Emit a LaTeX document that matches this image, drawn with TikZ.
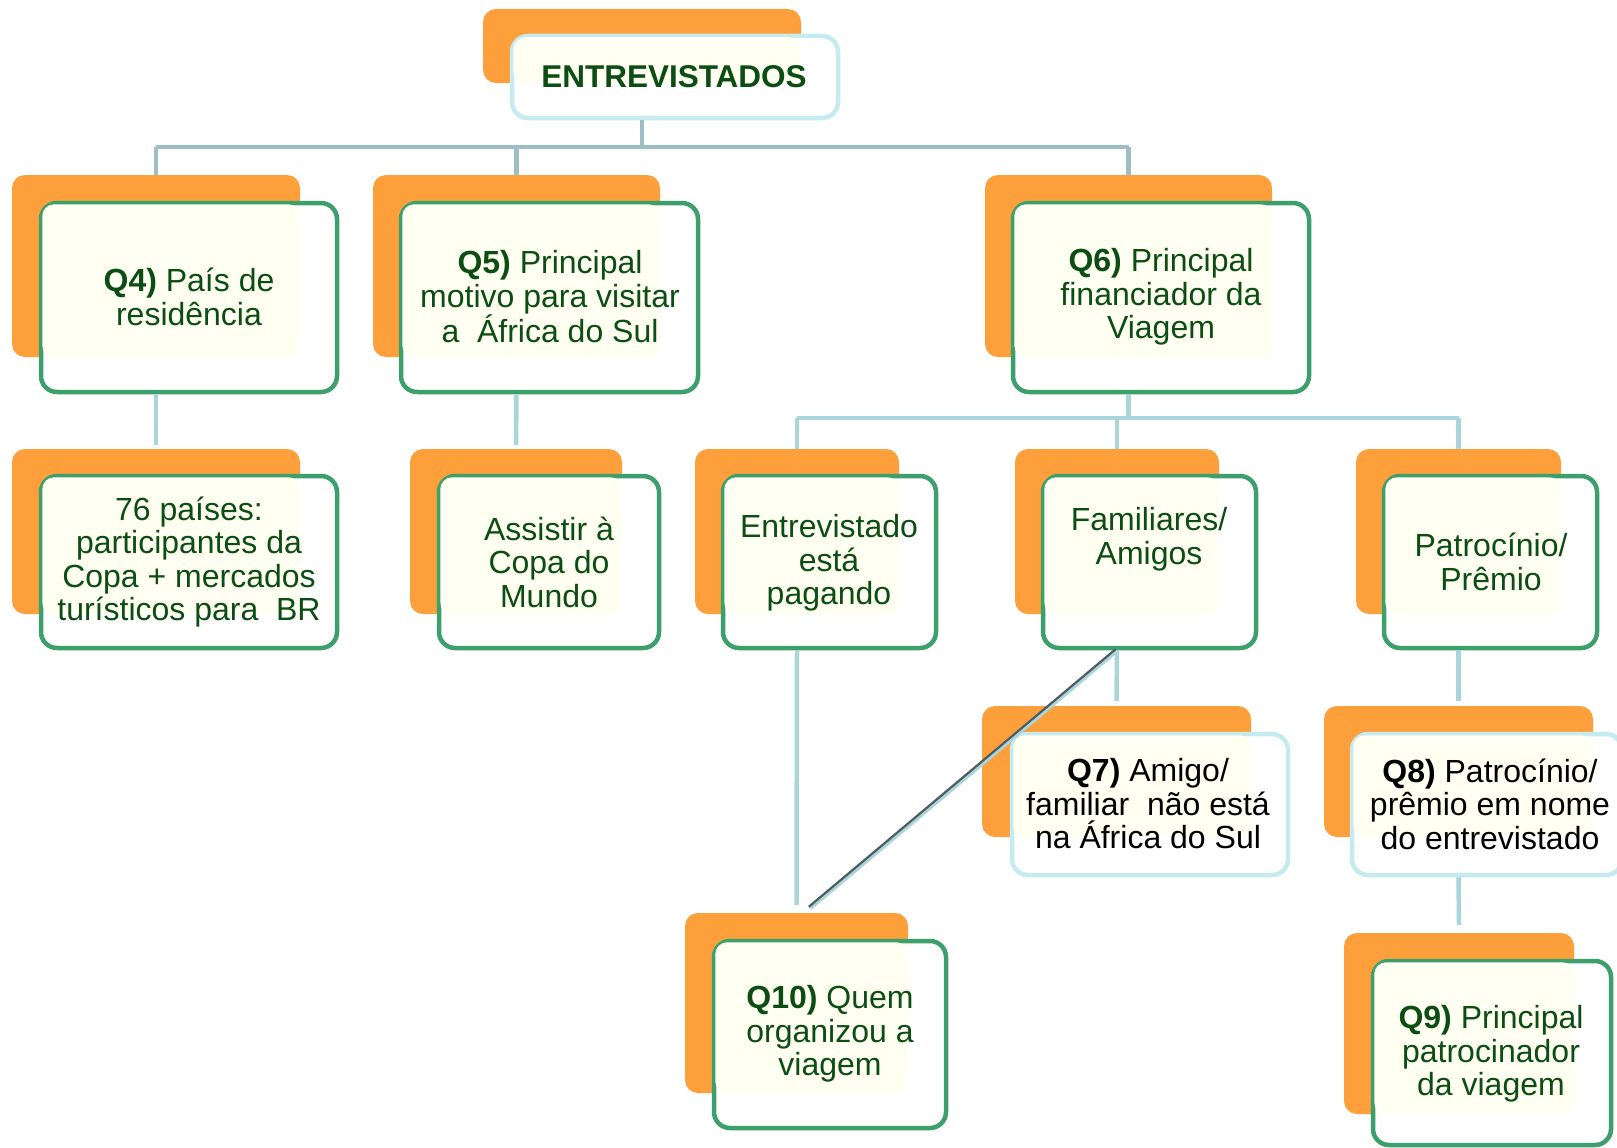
\documentclass[tikz,border=0pt]{standalone}
\usepackage{fontspec}
\setmainfont{Liberation Sans}
\usetikzlibrary{fit,calc}
\definecolor{orng}{HTML}{FD9F3A}
\definecolor{grn}{HTML}{3DA06C}
\definecolor{cyb}{HTML}{C5EAF0}
\definecolor{topc}{HTML}{9DBEC2}
\definecolor{lvc}{HTML}{A9D5DB}
\definecolor{txg}{HTML}{0B4D12}
\definecolor{crm}{HTML}{FFFFF2}
\definecolor{dgr}{HTML}{4F5D62}
\begin{document}
\begin{tikzpicture}[x=1pt,y=-1pt,
  back/.style={fill=orng, draw=none, rounded corners=13, inner sep=0pt},
  frontg/.style={fill=white, draw=grn, line width=4.5pt, rounded corners=16, inner sep=0pt},
  frontc/.style={fill=white, draw=cyb, line width=4.5pt, rounded corners=16, inner sep=0pt},
  txt/.style={align=center, text=txg, font=\fontsize{32}{33.5}\selectfont, inner sep=0pt},
  txtk/.style={align=center, text=black, font=\fontsize{32}{33.5}\selectfont, inner sep=0pt},
  topline/.style={draw=topc, line width=4.5pt},
  lvline/.style={draw=lvc, line width=4.5pt},
]
\useasboundingbox (0,0) rectangle (1617,1148);
\fill[white] (0,0) rectangle (1617,1148);

\coordinate (h1) at (0,147);
\coordinate (h2) at (0,418);
\coordinate (d10) at (810,908);

\newcommand\crmover[2]{\fill[crm, rounded corners=12] ($(#1.north west)+(3.5,3.5)$) rectangle (#2.south east);}

% ---------- boxes ----------
\node[back, fit={(483,9) (801,83)}] (topb) {};
\node[frontc, fit={(512,36) (838,118)}] (top) {};
\crmover{top}{topb}
\node[txt, font=\fontsize{31.5}{33}\selectfont\bfseries] (topt) at (674,77) {ENTREVISTADOS};

\node[back, fit={(12,175) (300,357)}] (q4b) {};
\node[frontg, fit={(41,203) (337,392)}] (q4) {};
\crmover{q4}{q4b}
\node[txt] (q4t) at (189,297) {\textbf{Q4)} País de\\residência};

\node[back, fit={(373,175) (660,357)}] (q5b) {};
\node[frontg, fit={(401,203) (698,392)}] (q5) {};
\crmover{q5}{q5b}
\node[txt] (q5t) at (550,297) {\textbf{Q5)} Principal\\motivo para visitar\\a \ África do Sul};

\node[back, fit={(985,175) (1272,357)}] (q6b) {};
\node[frontg, fit={(1013,203) (1309,392)}] (q6) {};
\crmover{q6}{q6b}
\node[txt] (q6t) at (1161,297) {\textbf{Q6)} Principal\\financiador da\\Viagem};

\node[back, fit={(12,449) (300,614)}] (c76b) {};
\node[frontg, fit={(41,476) (337,648)}] (c76) {};
\crmover{c76}{c76b}
\node[txt] (c76t) at (189,562) {76 países:\\participantes da\\Copa + mercados\\turísticos para \ BR};

\node[back, fit={(410,449) (622,614)}] (asb) {};
\node[frontg, fit={(439,476) (659,648)}] (as) {};
\crmover{as}{asb}
\node[txt] (ast) at (549,562) {Assistir à\\Copa do\\Mundo};

\node[back, fit={(695,449) (899,614)}] (enb) {};
\node[frontg, fit={(723,476) (936,648)}] (en) {};
\crmover{en}{enb}
\node[txt] (ent) at (829,563) {Entrevistado\\está\\pagando};

\node[back, fit={(1015,449) (1219,614)}] (fab) {};
\node[frontg, fit={(1043,476) (1256,648)}] (fa) {};
\crmover{fa}{fab}
\node[txt] (fat) at (1149,539) {Familiares/\\Amigos};

\node[back, fit={(1356,449) (1561,614)}] (pab) {};
\node[frontg, fit={(1384,476) (1597,648)}] (pa) {};
\crmover{pa}{pab}
\node[txt] (pat) at (1491,562) {Patrocínio/\\Prêmio};

\node[back, fit={(982,706) (1251,837)}] (q7b) {};
\node[frontc, fit={(1012,734) (1288,875)}] (q7) {};
\crmover{q7}{q7b}
\node[txtk] (q7t) at (1148,804) {\textbf{Q7)} Amigo/\\familiar \ não está\\na África do Sul};

\node[back, fit={(1324,706) (1593,837)}] (q8b) {};
\node[frontc, fit={(1352,734) (1622,875)}] (q8) {};
\crmover{q8}{q8b}
\node[txtk] (q8t) at (1490,804) {\textbf{Q8)} Patrocínio/\\prêmio em nome\\do entrevistado};

\node[back, fit={(1344,933) (1574,1114)}] (q9b) {};
\node[frontg, fit={(1373,961) (1611,1145)}] (q9) {};
\crmover{q9}{q9b}
\node[txt] (q9t) at (1491,1054) {\textbf{Q9)} Principal\\patrocinador\\da viagem};

\node[back, fit={(685,913) (908,1093)}] (q10b) {};
\node[frontg, fit={(714,941) (946,1128)}] (q10) {};
\crmover{q10}{q10b}
\node[txt] (q10t) at (830,1034) {\textbf{Q10)} Quem\\organizou a\\viagem};

% ---------- connectors ----------
\draw[topline] (topb.north |- top.south) -- (topb.north |- h1);
\draw[topline] (q4b.north |- h1) -- (q6b.north |- h1);
\draw[topline] (q4b.north |- h1) -- (q4b.north);
\draw[topline] (q5b.north |- h1) -- (q5b.north);
\draw[topline] (q6b.north |- h1) -- (q6b.north);
\draw[lvline] (q4b.north |- q4.south) -- ($(c76b.north)+(0,-4)$);
\draw[lvline] (q5b.north |- q5.south) -- ($(asb.north)+(0,-4)$);
\draw[lvline] (q6b.north |- q6.south) -- (q6b.north |- h2);
\draw[lvline] (enb.north |- h2) -- (pab.north |- h2);
\draw[lvline] (enb.north |- h2) -- (enb.north);
\draw[lvline] (fab.north |- h2) -- (fab.north);
\draw[lvline] (pab.north |- h2) -- (pab.north);
\draw[lvline] (fab.north |- fa.south) -- ($(q7b.north)+(0,-5)$);
\draw[lvline] (pab.north |- pa.south) -- ($(q8b.north)+(0,-5)$);
\draw[lvline] (q8b.north |- q8.south) -- ($(q9b.north)+(0,-8)$);
\draw[lvline] (enb.north |- en.south) -- ($(q10b.north)+(0,-8)$);
\draw[lvc, line width=4.5pt] (fab.north |- fa.south) -- (d10);
\draw[dgr, line width=2.2pt] ($(fab.north |- fa.south)+(-1.2,-1.2)$) -- ($(d10)+(-1.2,-1.2)$);
\end{tikzpicture}
\end{document}
